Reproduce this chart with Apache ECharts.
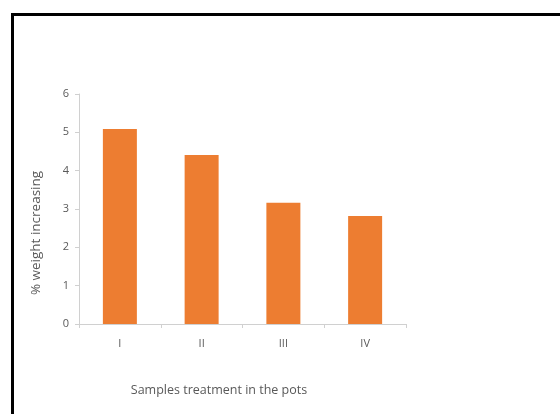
<!DOCTYPE html>
<html>
<head>
<meta charset="utf-8">
<script src="https://cdn.jsdelivr.net/npm/echarts@6/dist/echarts.min.js"></script>
<style>html,body{margin:0;padding:0;background:#fff;}#c{width:560px;height:414px;}</style>
</head>
<body>
<div id="c"></div>
<script>
const categories = ['I', 'II', 'III', 'IV'];
const values = [5.09, 4.41, 3.16, 2.82];
const yTicks = [0, 1, 2, 3, 4, 5, 6];
const yTitle = '% weight increasing';
const xTitle = 'Samples treatment in the pots';

const chart = echarts.init(document.getElementById('c'), null, {renderer: 'canvas'});
const font = '"Open Sans", "Liberation Sans", sans-serif';
chart.setOption({
  animation: false,
  backgroundColor: '#fff',
  grid: {left: 79, right: 154, top: 94, bottom: 90, containLabel: false},
  xAxis: {
    type: 'category',
    data: categories,
    axisLine: {lineStyle: {color: '#d0d0d0', width: 1}},
    axisTick: {show: true, length: 4, lineStyle: {color: '#d0d0d0'}},
    axisLabel: {color: '#595959', fontSize: 11, fontFamily: font, margin: 14}
  },
  yAxis: {
    type: 'value',
    min: yTicks[0], max: yTicks[yTicks.length - 1], interval: 1,
    axisLine: {show: true, lineStyle: {color: '#d0d0d0', width: 1}},
    axisTick: {show: true, length: 4, lineStyle: {color: '#d0d0d0'}},
    splitLine: {show: false},
    axisLabel: {color: '#595959', fontSize: 11, fontFamily: font, margin: 10}
  },
  series: [{
    type: 'bar',
    data: values,
    barWidth: 34,
    itemStyle: {color: '#ED7D31'}
  }],
  graphic: [
    {type: 'rect', shape: {x: 12.5, y: 14.5, width: 700, height: 600}, style: {fill: 'none', stroke: '#000', lineWidth: 3}, z: 10},
    {type: 'text', x: 36, y: 233, rotation: Math.PI / 2,
      style: {text: yTitle, fill: '#595959', font: '13.5px ' + font, textAlign: 'center', textVerticalAlign: 'middle'}},
    {type: 'text', x: 219, y: 390,
      style: {text: xTitle, fill: '#595959', font: '12.5px ' + font, textAlign: 'center', textVerticalAlign: 'middle'}}
  ]
});
</script>
</body>
</html>
